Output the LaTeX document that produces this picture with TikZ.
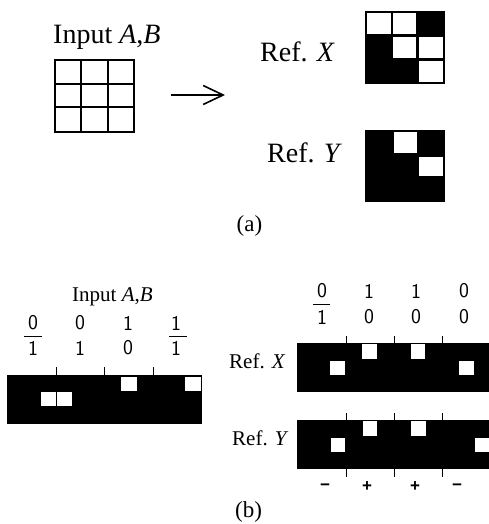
\documentclass[tikz,border=0pt]{standalone}
\usepackage{fontspec}
\setmainfont{Liberation Serif}
\newfontfamily\signfont{Liberation Sans}
\usetikzlibrary{arrows.meta}
\tikzset{x=1pt,y=-1pt,
 blk/.style={fill=black,draw=none},
 wht/.style={fill=white,draw=none},
 gridbox/.style={draw=black,line width=2pt},
 tickline/.style={draw=black,line width=0.9pt},
 fracline/.style={draw=black,line width=0.9pt},
 bigt/.style={font=\fontsize{28}{28}\selectfont,inner sep=0pt,anchor=base west},
 midt/.style={font=\fontsize{21}{21}\selectfont,inner sep=0pt,anchor=base west},
 capt/.style={font=\fontsize{23}{23}\selectfont,inner sep=0pt},
 dig/.style={font=\fontsize{21}{21}\sffamily\selectfont,inner sep=0pt},
 sgn/.style={font=\fontsize{17}{17}\signfont\bfseries\selectfont,inner sep=0pt}}
\begin{document}
\begin{tikzpicture}
\useasboundingbox (0,0) rectangle (489,524);
% part (a)
\node[bigt] (inA) at (53,44) {Input \textit{A},\textit{B}};
\draw[gridbox] (55,60) rectangle (134,132);
\draw[gridbox] (81,60) -- (81,132) (107.5,60) -- (107.5,132) (55,84) -- (134,84) (55,107.5) -- (134,107.5);
\coordinate (aS) at (171,95); \coordinate (aE) at (225,95);
\draw[line width=1.6pt,-{Straight Barb[length=20pt,width=19pt,line width=1.6pt]}] (aS) -- (aE);
\node[bigt] (refXa) at (260,62) {Ref. \textit{X}};
\node[bigt] (refYa) at (267,162) {Ref. \textit{Y}};
\fill[blk] (365,11) rectangle (445,84);
\foreach \a/\b/\c/\d in {367/13/391/34,393/13/416/34,393/37/416/58,419/37/443/58,419/61/443/82}
  \fill[wht] (\a,\b) rectangle (\c,\d);
\fill[blk] (365,130) rectangle (445,202);
\foreach \a/\b/\c/\d in {394/132/417/153,419/157/443/176}
  \fill[wht] (\a,\b) rectangle (\c,\d);
\node[capt] (capa) at (249.5,226) {(a)};
% part (b) left
\node[midt] (inB) at (72,301) {Input \textit{A},\textit{B}};
\foreach \x/\t/\u in {33/0/1,80/0/1,128/1/0,176/1/1}{
  \node[dig] at (\x,323) {\t};
  \node[dig] at (\x,348) {\u};
}
\draw[fracline] (24,336) -- (42,336) (169,336) -- (187,336);
\fill[blk] (7,375) rectangle (202,424);
\foreach \x in {56.5,104.5,153} \draw[tickline] (\x,367) -- (\x,375);
\foreach \a/\b/\c/\d in {41/392/56/406,57/392/72/406,121/377/137/391,185/377/201/391}
  \fill[wht] (\a,\b) rectangle (\c,\d);
% part (b) right
\foreach \x/\t/\u in {322/0/1,369/1/0,416/1/0,464/0/0}{
  \node[dig] at (\x,291) {\t};
  \node[dig] at (\x,317) {\u};
}
\draw[fracline] (313,304) -- (330,304);
\node[midt] (refXb) at (229,368) {Ref. \textit{X}};
\node[midt] (refYb) at (232,445) {Ref. \textit{Y}};
\fill[blk] (297,343) rectangle (489,392);
\foreach \x in {346,394,442} \draw[tickline] (\x,336) -- (\x,343);
\foreach \a/\b/\c/\d in {330/361/345/375,362/344/377/359,411/344/425/359,459/361/474/375}
  \fill[wht] (\a,\b) rectangle (\c,\d);
\foreach \x in {346,394,442} \draw[tickline] (\x,413) -- (\x,477);
\fill[blk] (297,420) rectangle (489,469);
\foreach \a/\b/\c/\d in {331/438/345/452,363/421/377/436,411/421/426/436,475/438/489/452}
  \fill[wht] (\a,\b) rectangle (\c,\d);
\node[sgn] at (325,487) {\char"2212};
\node[sgn] at (367,487) {+};
\node[sgn] at (415,487) {+};
\node[sgn] at (457,487) {\char"2212};
\node[capt] (capb) at (248.5,512) {(b)};
\end{tikzpicture}
\end{document}
